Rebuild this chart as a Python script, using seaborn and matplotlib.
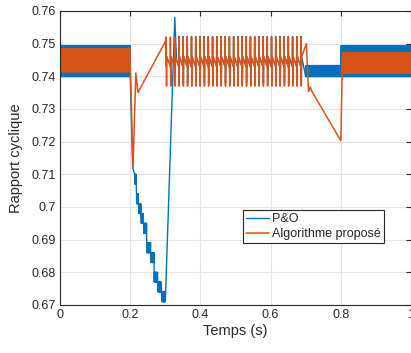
import numpy as np
import pandas as pd
import matplotlib
matplotlib.use('Agg')
import matplotlib.pyplot as plt
import seaborn as sns

# --- valeurs ---
# bandes d'oscillation rapide : (t_debut, t_fin, bas, haut)
po_fast_bands = [(0.0, 0.2, 0.7399, 0.7494),
                 (0.70, 0.80, 0.7399, 0.7433),
                 (0.80, 1.0, 0.7399, 0.7494)]
alg_fast_bands = [(0.0, 0.2, 0.7414, 0.7483),
                  (0.805, 1.0, 0.7409, 0.7471)]

# P&O : descente en escalier entre 0.21 s et 0.30 s
po_step_t = [0.213, 0.218, 0.224, 0.231, 0.238, 0.247, 0.259, 0.268, 0.279, 0.290, 0.300]
po_step_y = [0.710, 0.704, 0.701, 0.698, 0.695, 0.689, 0.686, 0.680, 0.677, 0.674]
po_step_amp = 0.003

# points de transition
po_trans1_t = [0.200, 0.207]
po_trans1_y = [0.741, 0.712]
po_trans2_t = [0.300, 0.327, 0.332]
po_trans2_y = [0.671, 0.758, 0.745]

alg_trans1_t = [0.200, 0.208, 0.216, 0.222, 0.302]
alg_trans1_y = [0.745, 0.712, 0.741, 0.735, 0.751]
alg_trans2_t = [0.702, 0.708, 0.713, 0.717, 0.800, 0.805]
alg_trans2_y = [0.750, 0.7353, 0.7367, 0.7355, 0.7203, 0.747]

# dents entre 0.3 s et 0.7 s (periode ~0.012 s)
teeth_period = 0.012
teeth_frac = [0.0, 0.05, 0.12, 0.2]
alg_teeth = (0.302, 0.700, [0.743, 0.752, 0.737, 0.746])
po_teeth = (0.338, 0.700, [0.743, 0.7522, 0.738, 0.746])

fast_period = 0.0016


def osc(t0, t1, period, fracs, vals):
    n = max(1, int(round((t1 - t0) / period)))
    base = t0 + period * np.arange(n)[:, None]
    t = (base + period * np.array(fracs)[None, :]).ravel()
    y = np.tile(vals, n)
    return list(t), list(y)


def fast(band):
    t0, t1, lo, hi = band
    return osc(t0, t1, fast_period, [0, 0.5], [lo, hi])


# assemble P&O
parts = [fast(po_fast_bands[0]), (po_trans1_t, po_trans1_y)]
for i in range(len(po_step_y)):
    parts.append(osc(po_step_t[i], po_step_t[i + 1], 0.0012, [0, 0.5],
                     [po_step_y[i], po_step_y[i] - po_step_amp]))
parts.append((po_trans2_t, po_trans2_y))
parts.append(osc(po_teeth[0], po_teeth[1], teeth_period, teeth_frac, po_teeth[2]))
parts.append(fast(po_fast_bands[1]))
parts.append(fast(po_fast_bands[2]))
po_t = np.concatenate([p[0] for p in parts])
po_y = np.concatenate([p[1] for p in parts])

# assemble algorithme propose
parts = [fast(alg_fast_bands[0]), (alg_trans1_t, alg_trans1_y),
         osc(alg_teeth[0], alg_teeth[1], teeth_period, teeth_frac, alg_teeth[2]),
         (alg_trans2_t, alg_trans2_y), fast(alg_fast_bands[1])]
alg_t = np.concatenate([p[0] for p in parts])
alg_y = np.concatenate([p[1] for p in parts])

df_po = pd.DataFrame({'t': po_t, 'd': po_y})
df_alg = pd.DataFrame({'t': alg_t, 'd': alg_y})

sns.set_style('whitegrid')
plt.rcParams['font.family'] = ['Liberation Sans', 'DejaVu Sans']
txt = '#262626'

fig = plt.figure(figsize=(4.11, 3.53), dpi=100)
ax = fig.add_axes([0.146, 0.136, 0.854, 0.833])

sns.lineplot(data=df_po, x='t', y='d', sort=False, estimator=None,
             color='#0072BD', lw=1.0, label='P&O', ax=ax)
sns.lineplot(data=df_alg, x='t', y='d', sort=False, estimator=None,
             color='#D95319', lw=1.1, label='Algorithme proposé', ax=ax)

ax.set_xlim(0, 1)
ax.set_ylim(0.67, 0.76)
ax.set_xticks([0, 0.2, 0.4, 0.6, 0.8, 1])
ax.set_xticklabels(['0', '0.2', '0.4', '0.6', '0.8', '1'])
ax.set_yticks(np.round(np.arange(0.67, 0.7601, 0.01), 2))
ax.set_yticklabels(['0.67', '0.68', '0.69', '0.7', '0.71', '0.72', '0.73',
                    '0.74', '0.75', '0.76'])
ax.grid(True, color='#e3e3e3', lw=0.8)
ax.set_axisbelow(True)
for s in ax.spines.values():
    s.set_visible(True)
    s.set_color(txt)
    s.set_linewidth(0.8)
ax.tick_params(direction='in', length=3.5, width=0.8, colors=txt,
               labelsize=9, top=True, right=True, pad=3)
ax.set_xlabel('Temps (s)', fontsize=10.5, color=txt, labelpad=2)
ax.set_ylabel('Rapport cyclique', fontsize=10.5, color=txt, labelpad=6)

leg = ax.legend(loc='lower left', bbox_to_anchor=(0.52, 0.21), fontsize=9,
                frameon=True, fancybox=False, framealpha=1, edgecolor=txt,
                handlelength=1.9, handletextpad=0.2, labelspacing=0.25,
                borderpad=0.25, borderaxespad=0)
leg.get_frame().set_linewidth(0.8)

fig.savefig('out.png', dpi=100)
